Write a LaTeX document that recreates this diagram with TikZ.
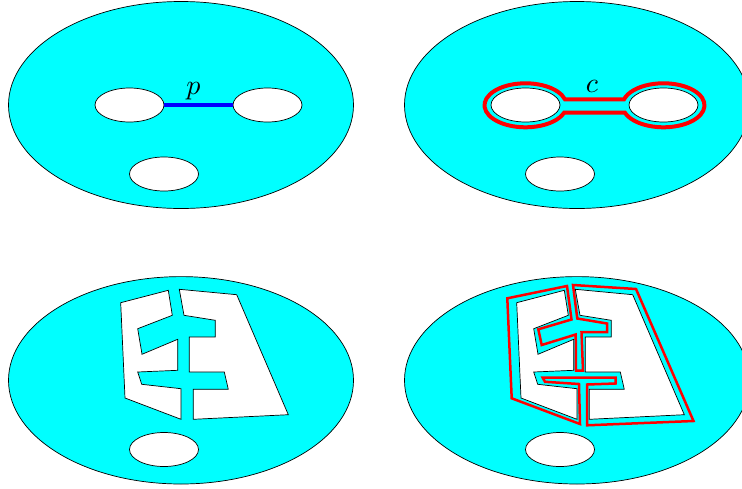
\documentclass[tikz,border=0pt]{standalone}
\usepackage{graphicx}
\usetikzlibrary{shapes.geometric}
\definecolor{aqua}{RGB}{0,255,255}
\tikzset{
  surface/.style={fill=aqua, draw=black, line width=0.7pt},
  hole/.style={fill=white, draw=black, line width=0.7pt, line join=miter},
  holeov/.style={ellipse, fill=white, draw=black, line width=0.7pt,
    minimum width=69pt, minimum height=34pt, inner sep=0pt},
  pline/.style={draw=blue, line width=3.8pt},
  cline/.style={draw=red, line width=4pt},
  cpoly/.style={draw=red, line width=2.5pt, line join=miter},
  lbl/.style={inner sep=0pt},
  holepair/.pic={
    \draw[hole] (120.7,302.7) -- (168.3,290.3) -- (172.3,315.3) -- (137.7,328.7)
      -- (142,354.3) -- (177.7,339.3) -- (177.7,370.3) -- (137.7,372)
      -- (141.7,384.3) -- (181,388.7) -- (181,419.3) -- (125,398) -- cycle;
    \draw[hole] (179.3,289.3) -- (236.7,294.7) -- (288.3,414.7) -- (193.3,419.3)
      -- (193.3,389.3) -- (228.3,389.3) -- (224.3,372) -- (189.3,372)
      -- (189.3,337) -- (215.3,337) -- (215.3,320.3) -- (184,315.3) -- cycle;
  }
}
\begin{document}
\begin{tikzpicture}[x=1pt,y=-1pt]
\clip (0,0) rectangle (742,488);

% top left
\draw[surface] (181,105) ellipse [x radius=172.5, y radius=103.5];
\node[holeov] (a1) at (129.5,105) {};
\node[holeov] (a2) at (267.5,105) {};
\node[holeov] (a3) at (164,174) {};
\draw[pline] (a1.east) -- (a2.west);
\node[lbl] (pl) at (193.5,91) {\scalebox{2.8}{$p$}};

% top right
\draw[surface] (577,105) ellipse [x radius=172.5, y radius=103.5];
\draw[cline] (564.95,99.3) arc[start angle=-15.8, end angle=-340.3, x radius=41, y radius=22]
  -- (624.9,112.7) arc[start angle=160.3, end angle=-164.2, x radius=41, y radius=22] -- cycle;
\node[holeov] (b1) at (525.5,105) {};
\node[holeov] (b2) at (663.5,105) {};
\node[holeov] (b3) at (560,174) {};
\node[lbl] (cl) at (592,86) {\scalebox{2.8}{$c$}};

% bottom left
\draw[surface] (181,380.3) ellipse [x radius=172.5, y radius=103.7];
\pic at (0,0) {holepair};
\node[holeov] (c3) at (164,449.5) {};

% bottom right
\draw[surface] (577,380.3) ellipse [x radius=172.5, y radius=103.7];
\begin{scope}[xshift=396pt]
\draw[cpoly] (171,286) -- (111.3,298.3) -- (115.7,398.3) -- (184,424) -- (183,384)
  -- (149,381.8) -- (146.7,377.7) -- (219.5,377.7) -- (219.5,383.5) -- (191,384.5)
  -- (191,425.3) -- (297.5,421) -- (240,289) -- (177,285) -- (181.3,318.5)
  -- (211,323.5) -- (211,332) -- (185.5,332) -- (187,370.5) -- (180,370.5)
  -- (179.7,334.5) -- (145.7,345) -- (142.3,329.3) -- (175.5,319.5) -- cycle;
\end{scope}
\pic at (396,0) {holepair};
\node[holeov] (d3) at (560,449.5) {};
\end{tikzpicture}
\end{document}
